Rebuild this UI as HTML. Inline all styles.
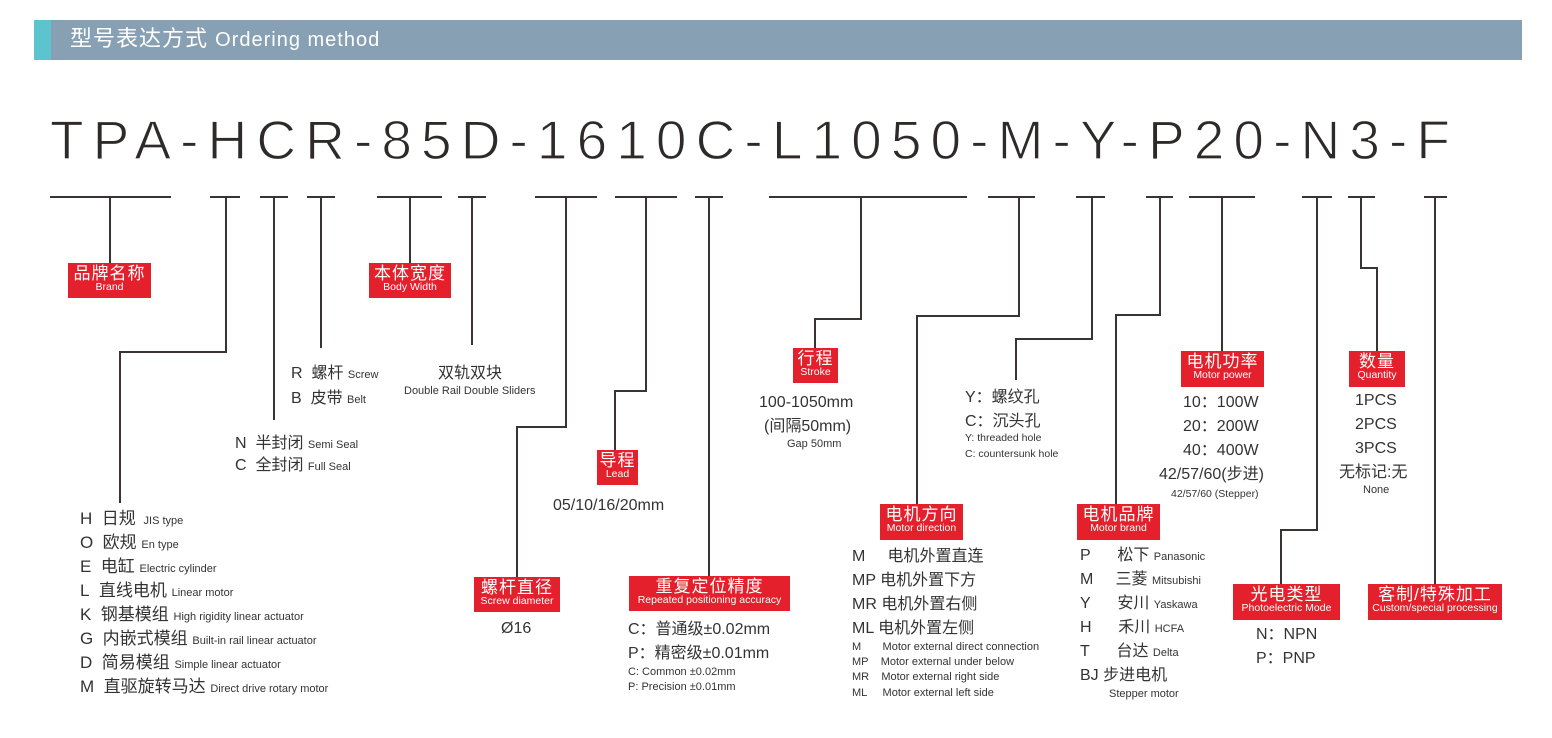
<!DOCTYPE html>
<html><head><meta charset="utf-8"><style>
*{margin:0;padding:0;box-sizing:border-box}
body{width:1552px;height:738px;background:#fff;position:relative;overflow:hidden;font-family:"Liberation Sans","Noto Sans CJK SC",sans-serif;color:#333}
.a{position:absolute;white-space:nowrap;line-height:1}
.box{position:absolute;background:#e3202b;color:#fff;text-align:center;line-height:1}
.box .c{font-size:17px;margin-top:2px;letter-spacing:1px}
.box .e{font-size:10.5px;margin-top:0px}
.t{font-size:16px}
.s{font-size:11px}
.L .t{font-size:17px}
</style></head><body>
<div style="position:absolute;left:34px;top:20px;width:1488px;height:40px;background:#87a0b4"></div>
<div style="position:absolute;left:34px;top:20px;width:17px;height:40px;background:#5bc4cf"></div>
<div class="a" style="left:70px;top:28px;font-size:22px;color:#fff;letter-spacing:1px">型号表达方式 <span style="font-size:20px">Ordering method</span></div>

<svg width="1552" height="738" style="position:absolute;left:0;top:0">
<text x="50" y="159" font-family="Liberation Sans, sans-serif" font-size="55" fill="#2f2a2a" stroke="#fff" stroke-width="1.2" paint-order="fill" textLength="1400" lengthAdjust="spacing">TPA-HCR-85D-1610C-L1050-M-Y-P20-N3-F</text>
<g stroke="#3a3333" stroke-width="2" fill="none">
<path d="M50 197H171M110 197V265"/>
<path d="M210 197H240M226 197V352H120V503"/>
<path d="M260 197H288M274 197V420"/>
<path d="M307 197H335M321 197V348"/>
<path d="M377 197H442M410 197V265"/>
<path d="M458 197H486M472 197V345"/>
<path d="M535 197H597M566 197V427H517V577"/>
<path d="M615 197H677M646 197V391H615V450"/>
<path d="M695 197H723M709 197V576"/>
<path d="M769 197H967M861 197V319H815V348"/>
<path d="M988 197H1035M1019 197V316H917V504"/>
<path d="M1076 197H1105M1092 197V339H1016V380"/>
<path d="M1146 197H1173M1160 197V315H1116V504"/>
<path d="M1189 197H1255M1222 197V351"/>
<path d="M1302 197H1332M1317 197V530H1281V584"/>
<path d="M1348 197H1375M1361 197V268H1377V351"/>
<path d="M1424 197H1447M1435 197V584"/>
</g></svg>

<div class="box" style="left:68px;top:263px;width:83px;height:35px"><div class="c">品牌名称</div><div class="e">Brand</div></div>
<div class="box" style="left:369px;top:263px;width:82px;height:35px"><div class="c">本体宽度</div><div class="e">Body Width</div></div>
<div class="box" style="left:474px;top:577px;width:86px;height:35px"><div class="c">螺杆直径</div><div class="e">Screw diameter</div></div>
<div class="box" style="left:597px;top:450px;width:41px;height:35px"><div class="c">导程</div><div class="e">Lead</div></div>
<div class="box" style="left:629px;top:576px;width:161px;height:35px"><div class="c">重复定位精度</div><div class="e">Repeated positioning accuracy</div></div>
<div class="box" style="left:793px;top:348px;width:45px;height:35px"><div class="c">行程</div><div class="e">Stroke</div></div>
<div class="box" style="left:880px;top:504px;width:83px;height:36px"><div class="c">电机方向</div><div class="e">Motor direction</div></div>
<div class="box" style="left:1077px;top:504px;width:83px;height:36px"><div class="c">电机品牌</div><div class="e">Motor brand</div></div>
<div class="box" style="left:1181px;top:351px;width:83px;height:36px"><div class="c">电机功率</div><div class="e">Motor power</div></div>
<div class="box" style="left:1349px;top:351px;width:56px;height:36px"><div class="c">数量</div><div class="e">Quantity</div></div>
<div class="box" style="left:1233px;top:584px;width:107px;height:36px"><div class="c">光电类型</div><div class="e">Photoelectric Mode</div></div>
<div class="box" style="left:1368px;top:584px;width:134px;height:36px"><div class="c">客制/特殊加工</div><div class="e">Custom/special processing</div></div>

<div class="L">
<div class="a t" style="left:80px;top:510px">H&nbsp; 日规 <span class="s">&nbsp;JIS type</span></div>
<div class="a t" style="left:80px;top:534px">O&nbsp; 欧规 <span class="s">En type</span></div>
<div class="a t" style="left:80px;top:558px">E&nbsp; 电缸 <span class="s">Electric cylinder</span></div>
<div class="a t" style="left:80px;top:582px">L&nbsp; 直线电机 <span class="s">Linear motor</span></div>
<div class="a t" style="left:80px;top:606px">K&nbsp; 钢基模组 <span class="s">High rigidity linear actuator</span></div>
<div class="a t" style="left:80px;top:630px">G&nbsp; 内嵌式模组 <span class="s">Built-in rail linear actuator</span></div>
<div class="a t" style="left:80px;top:654px">D&nbsp; 简易模组 <span class="s">Simple linear actuator</span></div>
<div class="a t" style="left:80px;top:678px">M&nbsp; 直驱旋转马达 <span class="s">Direct drive rotary motor</span></div>
</div>

<div class="a t" style="left:235px;top:436px">N&nbsp; 半封闭 <span class="s">Semi Seal</span></div>
<div class="a t" style="left:235px;top:458px">C&nbsp; 全封闭 <span class="s">Full Seal</span></div>
<div class="a t" style="left:291px;top:366px">R&nbsp; 螺杆 <span class="s">Screw</span></div>
<div class="a t" style="left:291px;top:391px">B&nbsp; 皮带 <span class="s">Belt</span></div>
<div class="a t" style="left:438px;top:366px">双轨双块</div>
<div class="a s" style="left:404px;top:386px">Double Rail Double Sliders</div>

<div class="a t" style="left:501px;top:621px">Ø16</div>
<div class="a t" style="left:553px;top:498px">05/10/16/20mm</div>
<div class="a t" style="left:628px;top:622px">C：普通级±0.02mm</div>
<div class="a t" style="left:628px;top:646px">P：精密级±0.01mm</div>
<div class="a s" style="left:628px;top:667px">C: Common ±0.02mm</div>
<div class="a s" style="left:628px;top:682px">P: Precision ±0.01mm</div>

<div class="a t" style="left:759px;top:395px">100-1050mm</div>
<div class="a t" style="left:764px;top:419px">(间隔50mm)</div>
<div class="a s" style="left:787px;top:439px">Gap 50mm</div>

<div class="a t" style="left:965px;top:390px">Y：螺纹孔</div>
<div class="a t" style="left:965px;top:414px">C：沉头孔</div>
<div class="a s" style="left:965px;top:433px;font-size:10.5px">Y: threaded hole</div>
<div class="a s" style="left:965px;top:449px;font-size:10.5px">C: countersunk hole</div>

<div class="a t" style="left:852px;top:549px">M&nbsp;&nbsp;&nbsp;&nbsp; 电机外置直连</div>
<div class="a t" style="left:852px;top:573px">MP 电机外置下方</div>
<div class="a t" style="left:852px;top:597px">MR 电机外置右侧</div>
<div class="a t" style="left:852px;top:621px">ML 电机外置左侧</div>
<div class="a s" style="left:852px;top:642px">M&nbsp;&nbsp;&nbsp;&nbsp;&nbsp;&nbsp; Motor external direct connection</div>
<div class="a s" style="left:852px;top:657px">MP&nbsp;&nbsp;&nbsp; Motor external under below</div>
<div class="a s" style="left:852px;top:672px">MR&nbsp;&nbsp;&nbsp; Motor external right side</div>
<div class="a s" style="left:852px;top:688px">ML&nbsp;&nbsp;&nbsp;&nbsp; Motor external left side</div>

<div class="a t" style="left:1080px;top:548px">P&nbsp;&nbsp;&nbsp;&nbsp;&nbsp; 松下 <span class="s">Panasonic</span></div>
<div class="a t" style="left:1080px;top:572px">M&nbsp;&nbsp;&nbsp;&nbsp; 三菱 <span class="s">Mitsubishi</span></div>
<div class="a t" style="left:1080px;top:596px">Y&nbsp;&nbsp;&nbsp;&nbsp;&nbsp; 安川 <span class="s">Yaskawa</span></div>
<div class="a t" style="left:1080px;top:620px">H&nbsp;&nbsp;&nbsp;&nbsp;&nbsp; 禾川 <span class="s">HCFA</span></div>
<div class="a t" style="left:1080px;top:644px">T&nbsp;&nbsp;&nbsp;&nbsp;&nbsp; 台达 <span class="s">Delta</span></div>
<div class="a t" style="left:1080px;top:668px">BJ 步进电机</div>
<div class="a s" style="left:1109px;top:689px">Stepper motor</div>

<div class="a t" style="left:1183px;top:395px">10：100W</div>
<div class="a t" style="left:1183px;top:419px">20：200W</div>
<div class="a t" style="left:1183px;top:443px">40：400W</div>
<div class="a t" style="left:1159px;top:467px">42/57/60(步进)</div>
<div class="a s" style="left:1171px;top:489px;font-size:10.5px">42/57/60 (Stepper)</div>

<div class="a t" style="left:1355px;top:393px">1PCS</div>
<div class="a t" style="left:1355px;top:417px">2PCS</div>
<div class="a t" style="left:1355px;top:441px">3PCS</div>
<div class="a t" style="left:1339px;top:465px">无标记:无</div>
<div class="a s" style="left:1363px;top:485px">None</div>

<div class="a t" style="left:1256px;top:627px">N：NPN</div>
<div class="a t" style="left:1256px;top:651px">P：PNP</div>
</body></html>
